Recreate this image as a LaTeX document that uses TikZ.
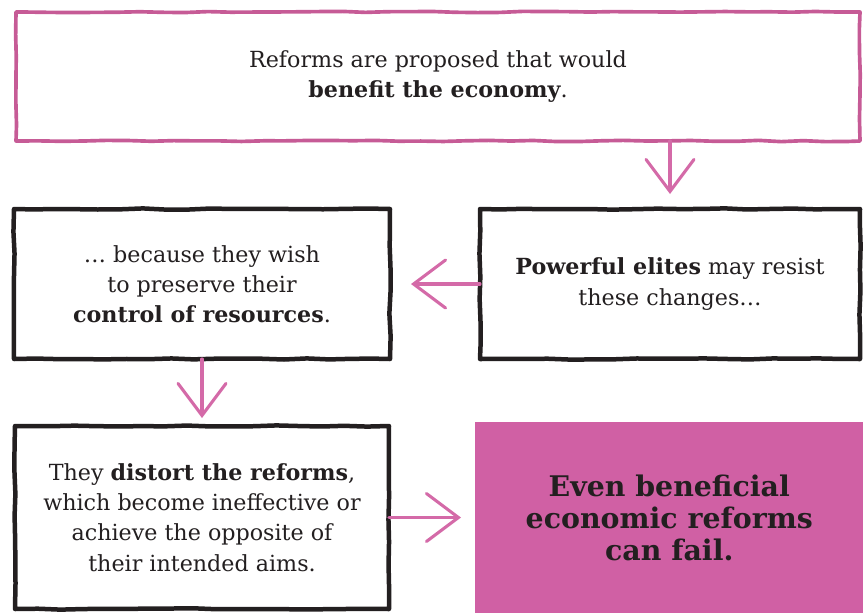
\documentclass[tikz,border=0pt]{standalone}
\usepackage{xcolor}
\usepackage{fontspec}
\setmainfont{DejaVu Serif}
\usepackage{tikz}
\usetikzlibrary{arrows.meta, positioning, decorations.pathmorphing}
\definecolor{framepink}{HTML}{C65B96}
\definecolor{arrowpink}{HTML}{D46AA8}
\definecolor{failpink}{HTML}{D060A4}
\definecolor{inkblack}{HTML}{231F20}
\tikzstyle{arrow} = [line width=2.2pt, line cap=round, draw=arrowpink, -{Straight Barb[length=0.8cm, width=1.2cm, line cap=round]}]
\tikzstyle{sketchbox} = [rectangle, draw=inkblack, line width=3.2pt, line join=round, fill=white, text=inkblack, align=center, inner sep=0pt, outer sep=0pt, decorate, decoration={random steps, segment length=16pt, amplitude=0.45pt}, font=\fontsize{15.8pt}{21.5pt}\selectfont]

\begin{document}
\begin{tikzpicture}[node distance=1.7cm]
    \pgfmathsetseed{7}
    \useasboundingbox (0,0) rectangle (21.7,-15.35);

    % Reforms
    \node (reform) [sketchbox, draw=framepink, line width=2.6pt, minimum width=21.1cm, minimum height=3.225cm] at (10.95,-1.9125) {Reforms are proposed that would\\\textbf{benefit the economy}.};

    % Elites
    \node (elites) [sketchbox, minimum width=9.5cm, minimum height=3.75cm, below=1.7cm of reform.south east, anchor=north east] {\textbf{Powerful elites} may resist\\these changes\ldots};
    \node (control) [sketchbox, minimum width=9.4cm, minimum height=3.75cm, left=2.25cm of elites] {\ldots\ because they wish\\to preserve their\\\textbf{control of resources}.};

    % Consequences
    \node (distort) [sketchbox, minimum width=9.35cm, minimum height=4.575cm, below=1.675cm of control] {They \textbf{distort the reforms},\\which become ineffective or\\achieve the opposite of\\their intended aims.};
    \node (fail) [rectangle, fill=failpink, text=inkblack, align=center, inner sep=0pt, minimum width=9.7cm, minimum height=4.775cm, right=2.15cm of distort, font=\fontsize{20.2pt}{22.8pt}\selectfont\bfseries] {Even beneficial\\economic reforms\\can fail.};

    % Flechas
    \draw [arrow, shorten >=0.375cm] (elites.north |- reform.south) -- (elites.north);
    \draw [arrow, shorten >=0.525cm] (elites.west) -- (control.east);
    \draw [arrow, shorten >=0.2cm] (control.south) -- (distort.north);
    \draw [arrow, shorten >=0.35cm] (distort.east) -- (fail.west);
\end{tikzpicture}
\end{document}
